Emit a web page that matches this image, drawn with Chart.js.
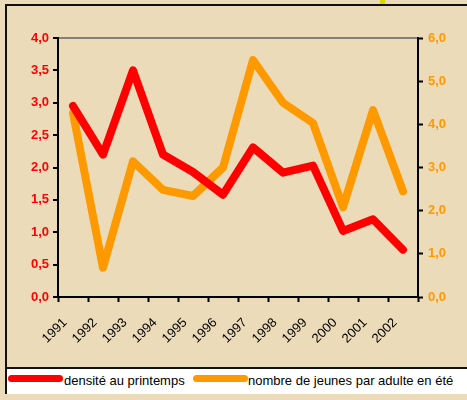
<!DOCTYPE html>
<html>
<head>
<meta charset="utf-8">
<script src="https://cdn.jsdelivr.net/npm/chart.js@4/dist/chart.umd.min.js"></script>
<style>
  html, body { margin: 0; padding: 0; }
  body { width: 467px; height: 400px; background: #ebdbb8; position: relative; overflow: hidden;
         font-family: "Liberation Sans", Arial, sans-serif; }
  #frame { position: absolute; left: 5px; top: 4px; width: 470px; height: 390px;
           border-left: 2px solid #111; border-top: 2px solid #111; border-bottom: 2px solid #111; box-sizing: border-box; }
  #mark { position: absolute; left: 380px; top: 0; width: 5px; height: 4px; background: #d8d800; }
  #chart { position: absolute; left: 0; top: 0; }
  #legend { position: absolute; left: 5px; top: 367px; width: 470px; height: 27px; background: #fff;
            border-top: 2px solid #111; border-left: 2px solid #111; box-sizing: border-box;
            font-size: 13px; color: #000; }
  .item { position: absolute; top: 3px; height: 18px; line-height: 18px; }
  .swatch { position: absolute; top: 5px; width: 55px; height: 7px; border-radius: 4px; }
  .label { position: absolute; white-space: nowrap; }
</style>
</head>
<body>
<div id="frame"></div>
<div id="mark"></div>
<canvas id="chart" width="467" height="368"></canvas>
<div id="legend"></div>
<script>
const years = ["1991", "1992", "1993", "1994", "1995", "1996", "1997", "1998", "1999", "2000", "2001", "2002"];
const densite = [2.95, 2.2, 3.5, 2.2, 1.93, 1.58, 2.31, 1.92, 2.03, 1.02, 1.2, 0.73];
const jeunes = [4.26, 0.68, 3.14, 2.48, 2.34, 3.0, 5.49, 4.5, 4.03, 2.08, 4.33, 2.45];
const seriesLabels = ["densité au printemps", "nombre de jeunes par adulte en été"];
const seriesColors = ["#ff0000", "#ff9900"];

const fmt = v => Number(v).toFixed(1).replace(".", ",");
const font = "'Liberation Sans', Arial, sans-serif";

new Chart(document.getElementById("chart"), {
  type: "line",
  data: {
    labels: years,
    datasets: [
      {
        label: seriesLabels[0],
        data: densite,
        yAxisID: "y",
        borderColor: seriesColors[0],
        borderWidth: 8,
        pointRadius: 0,
        tension: 0,
        borderJoinStyle: "round",
        borderCapStyle: "round",
      },
      {
        label: seriesLabels[1],
        data: jeunes,
        yAxisID: "y2",
        borderColor: seriesColors[1],
        borderWidth: 8,
        pointRadius: 0,
        tension: 0,
        borderJoinStyle: "round",
        borderCapStyle: "round",
      },
    ],
  },
  options: {
    responsive: false,
    devicePixelRatio: 1,
    animation: false,
    layout: { padding: { top: 38, left: 0, right: 0, bottom: 0 } },
    plugins: { legend: { display: false }, tooltip: { enabled: false } },
    scales: {
      x: {
        offset: true,
        afterFit: s => { s.height = 71; },
        border: { display: true, color: "#000", width: 2 },
        grid: { drawOnChartArea: false, offset: true, tickLength: 5, tickColor: "#000", tickWidth: 2 },
        ticks: {
          autoSkip: false,
          maxRotation: 45,
          minRotation: 45,
          padding: 13,
          labelOffset: -8,
          color: "#000",
          font: { family: font, size: 13 },
        },
      },
      y: {
        position: "left",
        min: 0,
        max: 4,
        afterFit: s => { s.width = 58; },
        border: { display: true, color: "#000", width: 2 },
        grid: {
          color: c => (c.tick && c.tick.value === 4 ? "#808080" : "rgba(0,0,0,0)"),
          lineWidth: 2,
          tickColor: "#000",
          tickWidth: 2,
          tickLength: 5,
        },
        ticks: {
          stepSize: 0.5,
          padding: 4,
          color: "#ff0000",
          font: { family: font, size: 13, weight: "bold" },
          callback: fmt,
        },
      },
      y2: {
        position: "right",
        min: 0,
        max: 6,
        afterFit: s => { s.width = 49; },
        border: { display: true, color: "#000", width: 2 },
        grid: { drawOnChartArea: false, tickColor: "#000", tickWidth: 2, tickLength: 5 },
        ticks: {
          stepSize: 1,
          padding: 5,
          color: "#ff9900",
          font: { family: font, size: 13, weight: "bold" },
          callback: fmt,
        },
      },
    },
  },
});

// legend below the plot
const legend = document.getElementById("legend");
const legendPos = [[1, 57], [186, 241]];
seriesLabels.forEach((lab, i) => {
  const sw = document.createElement("div");
  sw.className = "swatch";
  sw.style.left = legendPos[i][0] + "px";
  sw.style.top = "6px";
  sw.style.background = seriesColors[i];
  legend.appendChild(sw);
  const t = document.createElement("div");
  t.className = "label item";
  t.style.left = legendPos[i][1] + "px";
  t.textContent = lab;
  legend.appendChild(t);
});
</script>
</body>
</html>
